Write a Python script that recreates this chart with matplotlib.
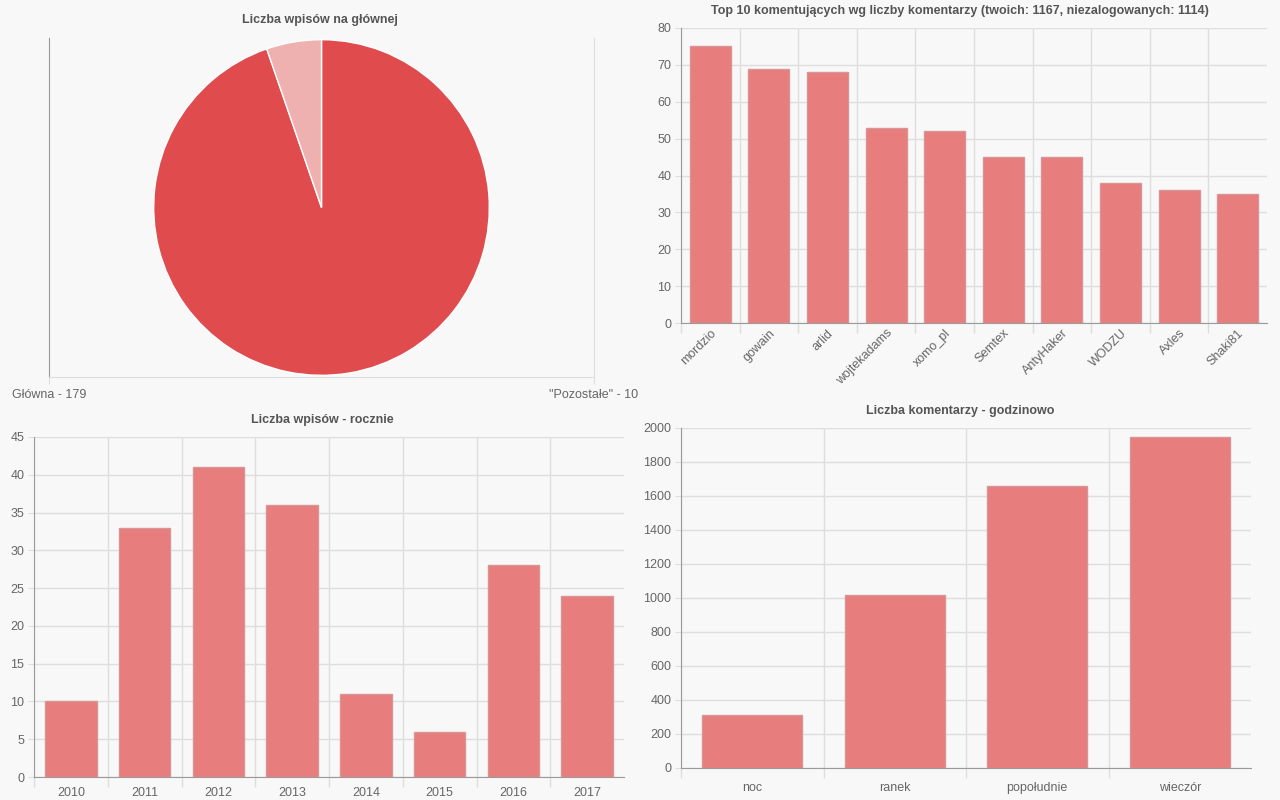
import numpy as np
import matplotlib
matplotlib.use("Agg")
import matplotlib.pyplot as plt

plt.rcParams['font.family'] = ['Liberation Sans', 'DejaVu Sans']

# data
pie_labels = ['Główna - 179', '"Pozostałe" - 10']
pie_values = [179, 10]

users = ['mordzio', 'gowain', 'arlid', 'wojtekadams', 'xomo_pl',
         'Semtex', 'AntyHaker', 'WODZU', 'Axles', 'Shaki81']
user_comments = [75, 69, 68, 53, 52, 45, 45, 38, 36, 35]

years = ['2010', '2011', '2012', '2013', '2014', '2015', '2016', '2017']
year_posts = [10, 33, 41, 36, 11, 6, 28, 24]

day_parts = ['noc', 'ranek', 'popołudnie', 'wieczór']
day_comments = [310, 1018, 1659, 1945]

W, H = 1280, 800
BAR = '#e77d7d'
EDGE = '#d79595'
TXT = '#666666'
GRID = '#dedede'
AXIS = '#9a9a9a'

fig = plt.figure(figsize=(12.8, 8), dpi=100)
fig.patch.set_facecolor('#f8f8f8')


def box(x0, y0, x1, y1):
    return fig.add_axes([x0 / W, (H - y1) / H, (x1 - x0) / W, (y1 - y0) / H])


def bar_panel(ax, labels, values, ymax, step, rot=0, pad=10):
    n = len(labels)
    x = np.arange(n)
    ax.set_facecolor('none')
    ax.bar(x, values, width=0.7, color=BAR, edgecolor=EDGE, linewidth=1, zorder=3)
    ax.set_xlim(-0.5, n - 0.5)
    ax.set_ylim(0, ymax)
    ax.set_yticks(np.arange(0, ymax + 1, step))
    ax.set_xticks(x)
    if rot:
        ax.set_xticklabels(labels, rotation=rot, ha='right', rotation_mode='anchor')
    else:
        ax.set_xticklabels(labels)
    ax.set_xticks(np.arange(n) - 0.5, minor=True)
    ax.tick_params(axis='x', which='major', length=0, pad=pad, labelsize=9, labelcolor=TXT)
    ax.tick_params(axis='x', which='minor', length=7, color=GRID, width=1)
    ax.tick_params(axis='y', length=4, color=GRID, labelsize=9, labelcolor=TXT, pad=3)
    ax.grid(axis='y', color=GRID, linewidth=1, zorder=0)
    ax.grid(axis='x', which='minor', color=GRID, linewidth=1, zorder=0)
    for s in ['top', 'right']:
        ax.spines[s].set_visible(False)
    ax.spines['left'].set_color(AXIS)
    ax.spines['bottom'].set_color(AXIS)


# pie chart
ax1 = box(49, 38, 594, 377)
ax1.set_facecolor('none')
ax1.pie(pie_values, colors=['#e04b4d', '#efb0b0'], startangle=90, counterclock=False,
        radius=1, center=(0, 0), frame=True,
        wedgeprops=dict(edgecolor='white', linewidth=1))
hy = 1.01
hx = hy * 545 / 339
ax1.set_xlim(-hx, hx)
ax1.set_ylim(-hy, hy)
ax1.set_xticks([-hx, hx])
ax1.set_xticklabels(pie_labels)
ax1.set_yticks([])
ax1.tick_params(axis='x', length=5, color=GRID, labelsize=9, labelcolor=TXT, pad=4)
ax1.spines['top'].set_visible(False)
ax1.spines['left'].set_color(AXIS)
ax1.spines['bottom'].set_color(GRID)
ax1.spines['right'].set_color(GRID)
fig.text(320 / W, 1 - 20 / H, 'Liczba wpisów na głównej', ha='center', va='center',
         fontsize=9, fontweight='bold', color='#555555')

# top commenters
ax2 = box(681, 28, 1267, 323)
bar_panel(ax2, users, user_comments, 80, 10, rot=45, pad=3)
fig.text(960 / W, 1 - 11 / H,
         'Top 10 komentujących wg liczby komentarzy (twoich: 1167, niezalogowanych: 1114)',
         ha='center', va='center', fontsize=9, fontweight='bold', color='#555555')

# yearly posts
ax3 = box(34, 437, 624, 777)
bar_panel(ax3, years, year_posts, 45, 5, pad=7)
fig.text(322 / W, 1 - 420 / H, 'Liczba wpisów - rocznie', ha='center', va='center',
         fontsize=9, fontweight='bold', color='#555555')

# comments by time of day
ax4 = box(681, 428, 1251, 768)
bar_panel(ax4, day_parts, day_comments, 2000, 200, pad=10)
fig.text(960 / W, 1 - 411 / H, 'Liczba komentarzy - godzinowo', ha='center', va='center',
         fontsize=9, fontweight='bold', color='#555555')

fig.savefig('out.png', dpi=100, facecolor=fig.get_facecolor())
